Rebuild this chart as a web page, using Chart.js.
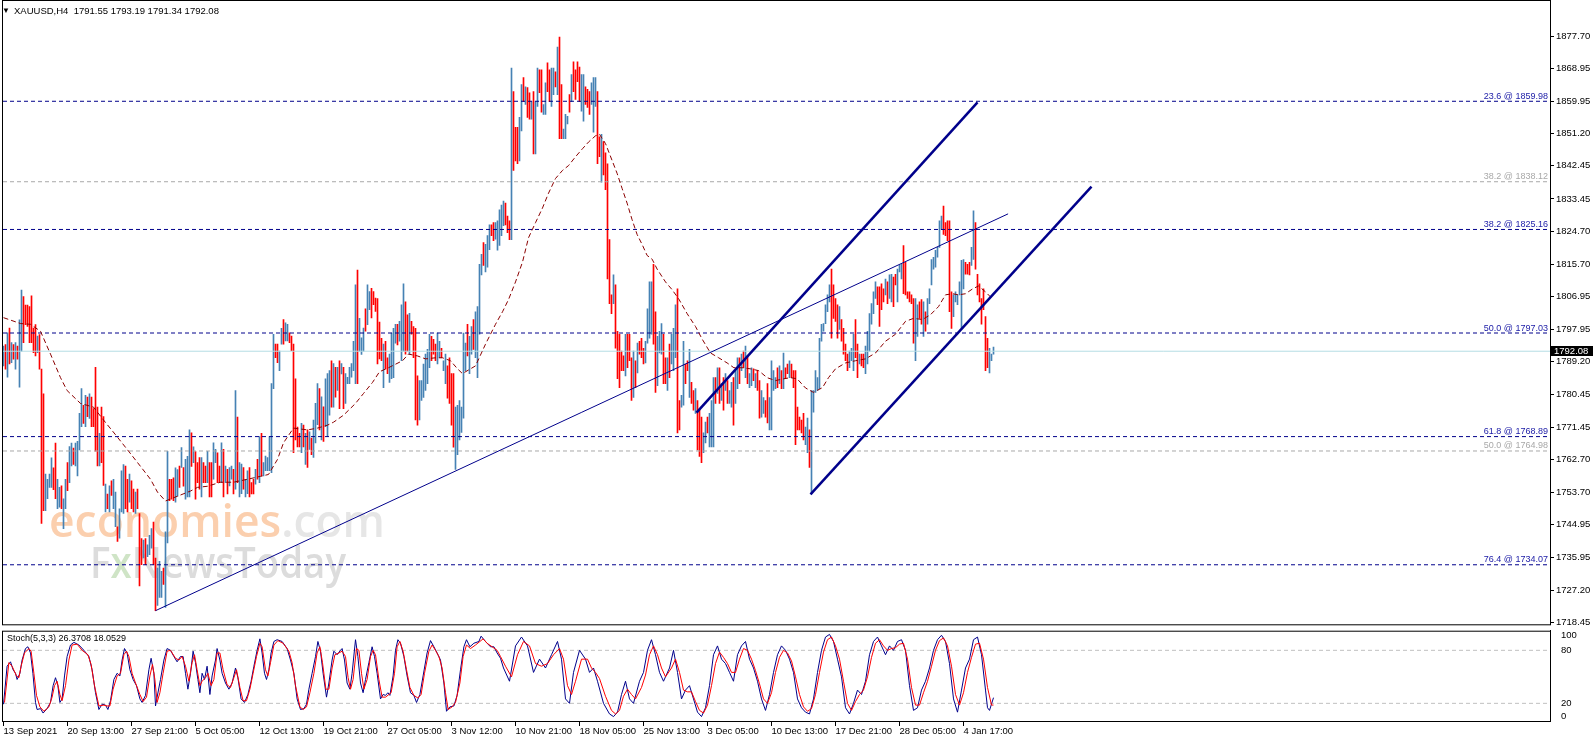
<!DOCTYPE html>
<html><head><meta charset="utf-8">
<script src="https://cdn.jsdelivr.net/npm/chart.js@4/dist/chart.umd.min.js"></script>
<style>
html,body{margin:0;padding:0;background:#fff;width:1596px;height:743px;overflow:hidden}
#c1{position:absolute;left:0;top:0}
#c2{position:absolute;left:0;top:622px}
</style></head><body>
<canvas id="c1" width="1596" height="632"></canvas>
<canvas id="c2" width="1596" height="121"></canvas>
<script>
const symbolTitle = 'XAUUSD,H4';
const lastBarOHLC = [1791.55, 1793.19, 1791.34, 1792.08];
const lastPrice = 1792.08;
const stochTitle = 'Stoch(5,3,3)';
const stochLast = [26.3708, 18.0529];

const barHigh = [
1793.5,1793.9,1797.1,1798.4,1794.4,1793.9,1794.4,1793.5,1800.6,1808.7,
1806.9,1804.6,1804.6,1804.2,1807.1,1798.4,1799.3,1796.2,1796.6,1787.2,
1780.5,1758.7,1757.3,1758.7,1763.1,1760.4,1767.1,1757.3,1755.1,1755.5,
1752.0,1757.3,1761.8,1766.2,1767.1,1765.8,1767.1,1767.6,1775.2,1781.9,
1777.4,1780.1,1779.6,1780.5,1779.6,1776.5,1787.7,1776.9,1769.8,1776.9,
1774.3,1756.0,1753.3,1755.5,1756.9,1757.3,1753.8,1744.4,1749.3,1759.6,
1761.3,1760.9,1757.3,1758.7,1756.9,1754.6,1753.8,1754.6,1748.0,1741.2,
1740.8,1741.2,1739.5,1742.1,1743.9,1745.7,1735.9,1733.2,1735.0,1732.3,
1733.2,1743.0,1764.9,1757.3,1757.3,1757.7,1760.4,1759.9,1760.9,1765.9,
1760.5,1762.7,1763.5,1770.7,1769.9,1766.1,1764.8,1761.8,1763.2,1763.2,
1761.8,1760.9,1764.9,1761.8,1761.8,1767.2,1765.4,1764.5,1760.9,1767.2,
1765.4,1760.9,1760.0,1760.5,1760.9,1760.0,1781.4,1774.2,1761.8,1761.4,
1760.5,1757.3,1759.6,1760.5,1756.4,1757.3,1760.0,1762.7,1768.9,1769.8,
1761.8,1763.6,1763.2,1768.9,1783.3,1796.7,1794.0,1794.0,1792.1,1798.3,
1800.7,1799.8,1799.4,1797.1,1796.2,1794.0,1784.6,1771.5,1769.8,1772.5,
1772.0,1769.8,1770.7,1770.2,1768.5,1773.4,1777.9,1783.3,1781.9,1779.7,
1777.0,1784.6,1786.0,1786.8,1789.5,1788.7,1787.7,1787.7,1789.5,1788.7,
1787.7,1786.0,1785.0,1787.7,1788.7,1794.8,1810.1,1814.1,1801.0,1795.7,
1798.4,1803.6,1810.1,1808.3,1809.2,1808.3,1806.5,1806.4,1800.0,1795.6,
1794.0,1794.8,1790.3,1791.3,1797.0,1798.3,1799.4,1799.4,1800.2,1804.7,
1810.4,1805.5,1802.0,1802.4,1800.2,1798.8,1798.3,1785.4,1784.1,1784.1,
1788.6,1791.3,1792.6,1796.7,1796.1,1795.3,1794.0,1797.0,1794.8,1792.9,
1789.5,1791.3,1788.1,1790.3,1786.0,1786.0,1776.9,1777.4,1778.7,1776.9,
1797.0,1794.3,1799.4,1796.1,1798.8,1800.7,1802.8,1804.2,1815.7,1818.4,
1821.6,1821.1,1823.5,1826.4,1826.4,1827.0,1827.0,1827.5,1830.5,1831.8,
1832.9,1832.3,1828.8,1827.5,1869.0,1862.6,1852.9,1852.9,1855.6,1864.5,
1866.4,1863.9,1863.7,1862.3,1859.9,1862.6,1859.9,1869.0,1868.5,1868.5,
1859.1,1865.0,1870.4,1868.5,1869.0,1869.0,1868.0,1874.7,1877.4,1864.5,
1852.4,1856.4,1855.9,1861.8,1867.2,1870.7,1868.5,1870.7,1869.3,1867.2,
1867.2,1863.9,1863.2,1862.6,1865.0,1866.4,1866.4,1862.6,1850.3,1851.0,
1849.0,1846.0,1843.0,1822.4,1807.4,1812.8,1810.1,1797.5,1796.7,1792.1,
1790.8,1796.7,1796.7,1796.7,1790.3,1792.1,1789.5,1794.3,1794.8,1795.6,
1792.9,1794.8,1803.6,1810.9,1810.9,1815.7,1802.8,1796.1,1797.5,1799.6,
1796.7,1790.3,1790.3,1794.0,1796.7,1798.3,1804.7,1809.0,1778.7,1780.1,
1794.8,1788.6,1789.5,1792.6,1783.6,1781.4,1781.9,1778.7,1776.1,1774.2,
1769.9,1772.8,1774.2,1775.2,1778.7,1784.9,1784.9,1787.6,1787.6,1783.3,
1784.9,1786.0,1784.1,1781.4,1783.6,1784.9,1786.8,1790.3,1790.3,1791.3,
1792.1,1793.5,1790.8,1786.0,1787.6,1787.3,1786.0,1786.8,1784.1,1781.4,
1779.5,1778.7,1783.3,1779.5,1789.5,1786.8,1784.9,1787.6,1788.1,1786.8,
1791.6,1787.6,1788.6,1789.5,1788.6,1786.8,1786.8,1776.9,1774.2,1773.4,
1775.2,1771.5,1773.9,1770.7,1781.4,1781.4,1786.8,1784.9,1795.6,1799.4,
1799.6,1804.7,1807.4,1810.1,1814.4,1810.1,1806.4,1804.7,1804.2,1800.7,
1798.3,1794.0,1791.3,1792.1,1792.9,1796.7,1800.7,1794.0,1791.3,1791.3,
1791.3,1793.5,1797.5,1802.3,1805.0,1808.2,1810.9,1809.6,1809.6,1810.4,
1809.0,1811.7,1810.9,1812.8,1813.0,1812.2,1813.0,1814.4,1815.4,1815.7,
1820.8,1816.2,1808.2,1808.2,1807.4,1806.4,1806.4,1804.7,1805.5,1806.1,
1805.5,1802.8,1806.4,1809.0,1817.0,1817.6,1819.5,1820.3,1827.5,1828.8,
1831.5,1827.0,1827.5,1827.5,1808.2,1807.4,1808.2,1807.4,1810.9,1816.8,
1817.0,1816.2,1815.7,1816.2,1820.3,1830.2,1827.0,1813.0,1810.4,1806.4,
1809.0,1801.5,1795.6,1792.9,1791.3,1793.2];

const barLow = [
1788.1,1787.2,1785.0,1788.6,1789.0,1789.9,1787.2,1789.9,1782.3,1792.1,
1794.4,1799.3,1798.8,1794.4,1794.4,1791.7,1790.8,1791.7,1787.2,1745.3,
1748.8,1748.8,1752.0,1755.1,1755.1,1754.5,1752.0,1749.3,1749.7,1749.3,
1743.9,1749.3,1754.2,1756.4,1760.9,1761.3,1760.9,1758.2,1765.3,1771.6,
1772.5,1771.6,1774.3,1773.8,1771.6,1771.6,1764.9,1760.9,1760.9,1761.8,
1755.6,1748.4,1749.3,1748.4,1752.9,1749.3,1744.4,1740.4,1741.3,1748.4,
1748.0,1749.3,1748.4,1751.1,1749.3,1748.4,1748.0,1749.3,1728.3,1734.1,
1735.9,1734.1,1736.3,1736.8,1738.6,1734.1,1721.6,1723.0,1725.2,1725.2,
1728.7,1722.5,1740.0,1751.5,1751.9,1751.5,1751.1,1752.7,1755.1,1760.5,
1755.4,1751.9,1752.5,1752.5,1760.8,1761.8,1751.9,1756.4,1754.6,1752.5,
1756.4,1756.4,1756.4,1752.5,1752.5,1757.3,1761.8,1756.4,1756.4,1756.4,
1752.5,1756.4,1753.3,1755.5,1757.3,1753.3,1754.6,1756.4,1752.5,1753.4,
1754.6,1752.5,1753.4,1752.5,1753.3,1753.3,1756.0,1757.3,1756.4,1758.2,
1758.2,1759.6,1759.6,1759.6,1759.1,1781.9,1790.3,1789.0,1786.8,1794.0,
1794.0,1794.9,1794.9,1794.4,1792.2,1764.5,1768.0,1766.1,1766.1,1764.5,
1766.1,1761.3,1760.5,1765.4,1764.0,1763.2,1767.2,1772.1,1770.7,1768.0,
1767.6,1771.6,1768.9,1774.7,1776.9,1776.9,1779.6,1781.4,1776.5,1785.9,
1776.5,1777.9,1783.3,1783.3,1785.0,1786.8,1783.3,1783.3,1792.1,1791.2,
1792.1,1797.5,1799.3,1803.4,1801.1,1804.7,1802.9,1788.6,1790.0,1789.5,
1782.2,1787.3,1786.0,1783.6,1784.6,1784.9,1794.3,1793.8,1794.8,1789.5,
1792.1,1791.3,1792.1,1791.3,1796.7,1790.3,1773.4,1772.0,1773.4,1778.7,
1779.5,1781.4,1783.3,1787.6,1789.5,1791.3,1789.5,1788.6,1790.3,1790.3,
1786.8,1783.3,1779.3,1777.9,1772.0,1766.0,1760.0,1764.0,1768.0,1770.0,
1773.9,1786.8,1790.8,1786.0,1791.3,1792.6,1790.3,1784.9,1796.7,1812.8,
1815.4,1813.6,1814.9,1819.7,1823.5,1822.1,1822.5,1819.5,1820.8,1823.5,
1826.2,1826.4,1824.3,1822.4,1822.4,1841.2,1843.8,1843.0,1843.8,1851.9,
1859.9,1859.1,1855.6,1855.1,1855.1,1845.7,1845.7,1858.6,1862.3,1857.0,
1856.4,1856.4,1862.6,1859.9,1858.6,1861.8,1863.9,1861.8,1849.8,1849.8,
1849.8,1849.8,1853.8,1857.0,1859.9,1862.6,1860.5,1865.3,1859.9,1857.3,
1854.6,1859.1,1858.3,1856.4,1859.1,1851.6,1858.6,1843.0,1844.9,1838.0,
1840.0,1836.0,1811.7,1805.0,1802.3,1805.0,1792.9,1784.6,1782.2,1786.8,
1786.8,1785.4,1787.6,1789.5,1778.7,1779.5,1782.2,1786.2,1791.3,1790.3,
1788.6,1788.9,1794.3,1795.6,1796.7,1794.0,1780.9,1782.7,1791.6,1791.3,
1783.3,1783.3,1781.4,1784.9,1788.6,1786.8,1790.3,1769.9,1770.7,1776.9,
1777.4,1783.3,1786.8,1779.5,1777.9,1776.1,1775.2,1765.3,1763.5,1761.8,
1764.5,1767.2,1769.9,1766.1,1766.1,1766.1,1777.9,1780.6,1777.9,1778.7,
1776.1,1781.4,1777.9,1777.9,1776.9,1772.0,1777.9,1781.9,1783.3,1786.8,
1787.6,1784.9,1783.3,1782.2,1782.7,1784.1,1782.2,1781.4,1773.9,1774.2,
1775.2,1774.2,1772.6,1770.7,1770.7,1781.4,1781.9,1782.2,1783.3,1781.9,
1781.9,1784.6,1786.0,1784.9,1784.9,1782.2,1766.7,1770.7,1770.7,1769.9,
1768.0,1766.7,1764.5,1760.5,1753.3,1775.5,1780.9,1781.4,1781.9,1794.8,
1797.5,1799.6,1802.8,1805.5,1795.6,1801.0,1800.2,1795.6,1798.0,1794.8,
1791.3,1789.5,1786.8,1787.6,1789.5,1786.8,1790.3,1784.9,1788.6,1788.1,
1787.6,1786.0,1788.6,1792.1,1799.4,1802.3,1806.4,1804.7,1798.8,1803.4,
1805.5,1807.4,1805.0,1806.4,1805.5,1804.2,1810.1,1805.5,1813.6,1811.7,
1807.7,1807.4,1806.4,1805.5,1805.0,1794.3,1789.5,1796.1,1801.0,1799.4,
1796.1,1797.5,1799.4,1805.0,1810.1,1814.4,1814.9,1817.6,1820.3,1825.1,
1823.8,1823.5,1822.1,1802.8,1798.3,1801.5,1805.5,1804.7,1807.4,1798.3,
1809.0,1813.0,1813.0,1812.8,1815.4,1817.0,1814.4,1807.4,1805.5,1799.4,
1803.4,1786.8,1787.6,1786.2,1789.5,1791.3];

const barUp = [
1,0,1,0,1,0,1,0,1,1, 0,0,0,0,0,0,0,1,0,0, 0,1,1,1,1,0,0,1,1,0, 1,1,0,1,1,0,1,1,1,1,
0,1,0,1,0,0,0,0,1,0, 0,1,0,1,0,1,1,0,1,1, 1,0,0,1,0,0,1,0,0,0, 1,0,1,1,1,0,0,1,1,1,
0,1,1,0,0,0,1,1,0,1, 0,1,1,1,0,1,0,0,0,1, 0,0,1,0,0,1,1,0,0,1, 0,1,0,1,1,0,1,0,1,1,
0,1,1,0,0,0,1,0,1,0, 1,1,1,1,1,1,0,0,1,1, 0,1,1,0,0,0,0,0,0,1, 0,1,0,1,0,1,1,1,0,1,
0,1,1,1,0,1,0,1,0,1, 0,1,1,1,1,1,1,0,1,1, 1,0,1,1,0,0,0,0,0,0, 1,0,0,1,1,1,1,0,1,1,
1,0,0,1,0,0,0,0,1,1, 1,1,1,1,0,0,0,1,1,0, 1,1,0,0,0,0,1,1,1,1, 1,1,0,1,1,0,1,1,1,1,
0,1,1,1,0,0,1,1,1,1, 1,0,0,0,1,0,0,0,1,1, 0,1,0,0,1,0,1,1,0,0, 1,1,0,0,1,1,0,1,0,0,
1,1,1,0,1,0,0,0,0,1, 1,0,0,0,1,1,1,0,0,1, 0,0,0,0,0,1,0,0,0,0, 0,1,0,0,0,1,0,1,0,0,
0,1,1,1,1,0,0,1,1,1, 0,0,1,0,1,1,1,0,0,1, 1,0,0,1,0,0,1,0,0,0, 1,1,0,1,1,1,0,1,0,1,
0,1,0,1,1,0,1,1,0,1, 0,1,0,1,1,0,1,0,0,1, 1,0,0,1,1,1,1,0,1,0, 1,0,0,1,0,0,0,0,0,0,
0,1,1,0,1,1,1,1,1,1, 1,1,1,1,0,0,0,0,1,0, 0,0,0,1,1,1,0,0,1,0, 0,1,1,1,1,1,1,0,0,0,
0,1,0,1,1,0,0,1,1,1, 0,0,0,0,0,0,1,1,0,0, 1,0,1,1,1,1,1,1,1,1, 0,0,0,0,0,1,1,1,1,1,
1,0,0,0,1,1,0,0,0,0, 0,0,0,1,1,1];

const maIdx = [0,8.5,13.5,18.5,23.5,28.5,31.8,38.5,45,50,56,62,68.5,73.5,77,81,87,93.5,97,102,108.5,115,122,128.5,132.5,137,140,142,145,152,157,162,165,170,176,180,184.5,188,192.5,199.5,202.5,207,211,216,219.5,223.5,227,229.5,233.5,236,241,246,249.5,252.5,256,259.5,262.5,266,269.5,272.5,276,279.5,282.5,286,289.5,292.5,296,298,301,306.8,309.3,311.8,314.3,316.8,319.3,321.8,324.3,326.8,331,334.3,337.6,341.8,346,349.3,353.5,357.6,361.8,365.2,369.3,373.5,377.6,381.8,386,390.2,393.5,396.8,401,405,409.5,412.5,416,421,426,431,436,441,446,451,455,459.5,463.5,467.5,471,474.5,477.5,481,484.5,487.5,491,494.5];
const maVal = [1801.2,1799.6,1799.4,1797.5,1791.3,1784.9,1781.4,1777.9,1776.9,1773.4,1769.4,1765.3,1760.8,1757.3,1753.8,1751.4,1752.7,1754.1,1755.1,1755.4,1756.5,1756.5,1757.3,1758.1,1758.6,1762.7,1767.2,1768.8,1771.2,1770.7,1771.2,1772.0,1772.8,1774.7,1777.9,1780.6,1783.6,1786.5,1787.6,1789.5,1791.3,1790.8,1790.0,1790.3,1790.3,1789.5,1787.3,1786.0,1787.3,1788.1,1794.0,1799.4,1802.8,1806.1,1810.9,1816.3,1822.9,1827.0,1831.0,1835.0,1839.0,1841.2,1842.5,1844.9,1847.1,1848.9,1850.6,1851.0,1848.5,1840.4,1836.3,1832.3,1827.8,1823.8,1821.1,1818.1,1817.1,1814.4,1810.9,1808.8,1806.3,1802.3,1798.8,1795.4,1791.6,1790.3,1788.9,1787.6,1787.6,1787.3,1786.8,1784.9,1784.1,1784.6,1784.9,1784.6,1782.1,1780.9,1782.2,1784.9,1787.3,1788.9,1789.5,1790.0,1791.6,1794.8,1796.7,1800.2,1801.0,1800.7,1802.0,1804.2,1807.4,1807.7,1807.4,1807.7,1809.0,1809.8,1808.2,1806.3];

const stochKIdx = [0,1.8,3.5,4.8,6,6.8,8.2,9.3,11,12.2,13.5,14.7,16,16.8,18.5,19.8,21.8,23.5,24.8,26,27.2,28.2,29.3,30.5,31.8,33.5,35.2,37.7,40.2,42.7,44.3,46,47.7,49.3,51,52.2,53.5,55.2,56.8,58.2,59.3,60.5,61.8,63.2,64.8,66.5,68.2,69.3,71,72.7,73.8,75.2,76,76.8,78.5,80.2,81.8,83.5,85.2,86.8,88.5,89.8,91,92.2,93.5,94.8,96,97.2,98.2,99.3,100.5,101.8,103.2,104.3,106,106.8,108.2,109.3,111,112.7,114.3,116,117.2,118.8,120.5,122.2,123.8,125.2,126.8,128.2,129.3,130.5,131.5,132.7,133.8,135.2,136.8,139.3,141.8,143.5,145.2,146.8,148.5,150.2,151.5,152.7,154.3,156,157.2,158.5,159.8,161.5,162.7,164.3,165.2,166.8,168.5,169.3,170.5,171.8,173.2,174.3,176,177.2,178.5,179.8,181,182.7,184.3,185.5,186.8,188.5,189.8,191,192.2,193.2,194.8,196,197.2,198.5,200.2,201.8,203.5,205.2,206.5,208.2,209.8,211.8,213.5,215.2,216.8,218.5,220.2,221.5,223.2,225.2,226.8,228.5,230.2,231.5,233.2,235.2,237.7,238.8,241,243.5,245.2,246.8,248.5,
250,253,256,259,262,265,268,271,274,277,279,281,283,285,288,291,293,295,297,300,303,305,307,309,311,313,315,318,320,322,324,326,328,330,333,335,337,339,341,343,345,347,349,351,353,355,357,359,361,363,365,367,369,371,373,375,377,379,381,383,385,387,389,391,393,395,397,399,401,403,405,407,409,411,413,415,417,419,421,423,425,427,429,431,433,435,437,439,441,443,445,447,449,451,453,455,457,459,461,463,465,467,469,471,473,475,477,479,481,483,485,487,489,491,492,493,495];
const stochKVal = [19,62,67,58,54,47,54,69,82,84,77,54,21,13,14,9,14,21,40,49,40,21,25,51,73,86,89,86,80,73,58,32,13,19,18,13,23,47,54,51,69,82,77,58,47,40,25,21,29,58,71,54,17,27,47,69,82,80,73,67,73,73,54,36,54,79,66,47,32,54,47,62,30,51,69,82,69,54,43,36,43,60,49,25,21,30,45,62,80,93,77,54,47,58,77,90,92,90,82,69,54,25,13,14,19,36,54,73,90,79,54,27,43,69,79,75,80,82,69,43,36,54,92,73,43,32,47,66,84,73,54,25,30,29,32,29,51,80,92,88,73,51,32,29,21,30,51,77,91,84,77,69,43,11,16,17,29,58,84,92,84,88,90,96,90,84,84,77,71,
60,45,85,95,85,55,70,60,75,90,70,25,20,55,80,70,55,60,45,20,8,5,10,30,45,25,20,45,55,80,92,75,55,45,60,80,55,25,35,40,25,10,5,15,40,75,85,70,65,55,45,75,85,90,70,60,45,25,12,30,55,75,85,80,70,55,25,15,10,8,25,55,80,95,98,90,70,50,15,8,20,35,30,45,75,90,95,85,75,85,80,90,92,80,40,12,15,35,45,60,80,92,97,90,65,25,10,35,60,70,92,95,75,35,15,12,26.4];

const stochDIdx = [0.5,2.7,4.3,6.5,7.7,8.8,10.5,12.7,13.8,15.2,16.5,18.2,20.2,22.7,24.3,25.5,26.8,28.2,29.3,31,32.7,34.3,36.8,39.3,42.2,43.8,45.5,47.7,50.2,51.8,53.2,54.8,56.8,58.5,60.2,61.5,62.7,64.3,66,68.2,69.8,71.5,73.2,74.5,75.7,76.8,78.2,79.8,81.8,83.5,86,87.7,89.3,91,92.7,94.3,95.5,96.8,98.2,99.3,101,102.2,103.8,105.2,106.8,108.2,109.8,111.8,113.5,115.2,116.5,118.2,119.8,121.5,123.2,124.8,126.5,128.2,129.3,131,132.2,133.5,135.2,137.2,139.8,142.7,144.3,146,148.2,149.8,151.5,153.2,155.2,156.8,158.2,159.5,161.2,162.7,164.3,165.7,167.7,169.3,171,172.3,173.5,174.8,176.5,177.7,179,180.2,181.8,183.5,184.8,186,187.7,189.3,191,192.7,193.8,195.5,196.8,198.2,199.8,201.5,203.2,205.2,207.2,208.8,210.5,212.7,214.3,216,217.7,219.3,221,222.3,224.3,226,228.2,229.8,231.5,233.5,236,238.2,239.8,241.8,244.3,246.8,248.5,
251,254,257,260,263,266,269,272,275,278,280,282,284,286,289,292,294,296,298,301,304,306,308,310,312,314,316,319,321,323,325,327,329,331,334,336,338,340,342,344,346,348,350,352,354,356,358,360,362,364,366,368,370,372,374,376,378,380,382,384,386,388,390,392,394,396,398,400,402,404,406,408,410,412,414,416,418,420,422,424,426,428,430,432,434,436,438,440,442,444,446,448,450,452,454,456,458,460,462,464,466,468,470,472,474,476,478,480,482,484,486,488,490,492,494,495];
const stochDVal = [21,66,62,51,49,62,77,82,79,54,29,16,11,16,27,40,45,30,23,40,69,86,87,80,75,64,40,17,18,17,17,36,51,54,75,79,73,54,43,30,22,27,51,64,47,21,32,54,79,80,71,69,73,62,45,66,75,58,40,45,49,54,40,47,77,77,58,41,38,49,58,38,23,23,36,54,73,88,84,58,51,66,86,91,88,79,66,40,16,13,16,32,54,77,84,66,36,36,60,75,77,79,73,49,36,47,82,80,54,36,47,73,80,75,47,27,27,30,32,54,84,90,79,58,38,29,26,30,54,79,86,80,73,60,32,13,16,21,43,73,86,82,86,90,93,88,84,80,73,
62,50,75,90,85,65,62,65,75,82,70,40,30,45,70,70,60,55,48,28,12,8,12,28,36,30,25,38,52,75,85,75,60,50,60,70,55,35,33,33,22,12,9,18,40,65,78,72,65,55,55,70,82,80,70,57,42,25,20,32,55,72,80,77,68,50,30,16,11,14,30,55,78,92,95,85,70,45,20,12,22,30,35,50,72,88,92,85,80,82,83,87,88,70,38,18,18,32,45,62,80,91,94,85,62,30,18,32,55,72,87,88,70,38,18,18.05];

const stochLevels = [20, 80];
const fibLevels = [1859.98, 1825.16, 1797.03, 1768.89, 1734.07];
const fibNames  = ['23.6', '38.2', '50.0', '61.8', '76.4'];
const fibGrayLevels = [1838.12, 1764.98];
const fibGrayNames  = ['38.2', '50.0'];
const priceTicks = [1877.70,1868.95,1859.95,1851.20,1842.45,1833.45,1824.70,1815.70,1806.95,1797.95,1789.20,1780.45,1771.45,1762.70,1753.70,1744.95,1735.95,1727.20,1718.45];
const stochTickText = ['0', '20', '80', '100'];
// trendlines: [startIdx, startPrice, endIdx, endPrice]
const trendThin  = [[76, 1721.6, 502.3, 1829.4]];
const trendThick = [[346.5, 1775.4, 487, 1859.7], [403.5, 1753.2, 544, 1836.8]];
const xTickIdx = [0,32,64,96,128,160,192,224,256,288,320,352,384,416,448,480];
const xTickLabels = ['13 Sep 2021','20 Sep 13:00','27 Sep 21:00','5 Oct 05:00','12 Oct 13:00','19 Oct 21:00','27 Oct 05:00','3 Nov 12:00','10 Nov 21:00','18 Nov 05:00','25 Nov 13:00','3 Dec 05:00','10 Dec 13:00','17 Dec 21:00','28 Dec 05:00','4 Jan 17:00'];

// ---- view settings ----
const X_MIN = -0.25, X_MAX = 773.25;
const STOCH_LABEL_POS = [5.5, 20, 80, 96.5]; // MT4 keeps the edge labels inside the pane
const FONT = '"Liberation Sans", Arial, sans-serif';
Chart.defaults.font.family = FONT;
Chart.defaults.font.size = 9.5;
Chart.defaults.color = '#000';

const NAVY = '#00008B';
const pts = (xs, ys) => xs.map((x, i) => ({x, y: ys[i]}));
const hline = (v) => [{x: X_MIN, y: v}, {x: X_MAX, y: v}];

const datasets1 = [];
datasets1.push({
  type: 'bar', order: 10,
  data: barHigh.map((h, i) => ({x: i, y: [barLow[i], h]})),
  backgroundColor: barUp.map(u => u ? '#4682B4' : '#FF0000'),
  barThickness: 1, borderWidth: 0, grouped: false
});
datasets1.push({type:'line', order: 8, data: hline(lastPrice), borderColor:'#b5dde4', borderWidth:1, pointRadius:0});
fibGrayLevels.forEach(v => datasets1.push({type:'line', order: 7, data: hline(v), borderColor:'#a8a8a8', borderWidth:1, borderDash:[4,3], pointRadius:0}));
fibLevels.forEach(v => datasets1.push({type:'line', order: 6, data: hline(v), borderColor:NAVY, borderWidth:1, borderDash:[4,3], pointRadius:0}));
datasets1.push({type:'line', order: 4, data: pts(maIdx, maVal), borderColor:'#8B0000', borderWidth:1, borderDash:[5,3], pointRadius:0, tension:0});
trendThin.forEach(t => datasets1.push({type:'line', order: 2, data:[{x:t[0],y:t[1]},{x:t[2],y:t[3]}], borderColor:NAVY, borderWidth:1, pointRadius:0}));
trendThick.forEach(t => datasets1.push({type:'line', order: 1, data:[{x:t[0],y:t[1]},{x:t[2],y:t[3]}], borderColor:NAVY, borderWidth:2.5, pointRadius:0}));

const deco1 = {
  id: 'deco1',
  beforeDatasetsDraw(chart) {
    const ctx = chart.ctx; ctx.save();
    ctx.textBaseline = 'alphabetic'; ctx.textAlign = 'left';
    ctx.font = '600 46px "Open Sans"';
    let x = 49; const y = 537;
    const w1 = ctx.measureText('economies').width, w2 = ctx.measureText('.com').width;
    ctx.translate(x, y); ctx.scale(336 / (w1 + w2), 1);
    ctx.fillStyle = '#fbcfae'; ctx.fillText('economies', 0, 0);
    ctx.fillStyle = '#e6e6e6'; ctx.fillText('.com', w1, 0);
    ctx.restore(); ctx.save();
    ctx.textBaseline = 'alphabetic'; ctx.textAlign = 'left';
    ctx.font = '600 44px "Open Sans"';
    const parts = [['F','#dcdcdc'],['x','#cfe4c6'],['NewsToday','#dcdcdc']];
    const total = parts.reduce((s, p) => s + ctx.measureText(p[0]).width, 0);
    ctx.translate(90, 578); ctx.scale(256 / total, 1);
    let cx = 0;
    for (const [t, c] of parts) { ctx.fillStyle = c; ctx.fillText(t, cx, 0); cx += ctx.measureText(t).width; }
    ctx.restore();
  },
  afterDatasetsDraw(chart) {
    const ctx = chart.ctx, ys = chart.scales.y, ca = chart.chartArea;
    ctx.save();
    ctx.font = '9px ' + FONT; ctx.textAlign = 'right'; ctx.textBaseline = 'alphabetic';
    fibLevels.forEach((v, k) => { ctx.fillStyle = '#1a1aa6'; ctx.fillText(fibNames[k] + ' @ ' + v.toFixed(2), ca.right - 2, ys.getPixelForValue(v) - 2.5); });
    fibGrayLevels.forEach((v, k) => { ctx.fillStyle = '#a8a8a8'; ctx.fillText(fibGrayNames[k] + ' @ ' + v.toFixed(2), ca.right - 2, ys.getPixelForValue(v) - 2.5); });
    ctx.restore();
  },
  afterDraw(chart) {
    const ctx = chart.ctx, ys = chart.scales.y, ca = chart.chartArea;
    ctx.save();
    ctx.strokeStyle = '#000'; ctx.lineWidth = 1;
    ctx.strokeRect(ca.left - 0.5, 0.5, ca.right - ca.left + 1, ca.bottom);
    const py = Math.round(ys.getPixelForValue(lastPrice));
    ctx.fillStyle = '#000'; ctx.fillRect(ca.right + 1, py - 5, 42, 10);
    ctx.fillStyle = '#fff'; ctx.font = '9.5px ' + FONT; ctx.textBaseline = 'middle'; ctx.textAlign = 'left';
    ctx.fillText(lastPrice.toFixed(2), ca.right + 4, py);
    ctx.fillStyle = '#000';
    ctx.font = '8px ' + FONT; ctx.fillText('\u25BC', 2, 11);
    ctx.font = '9.5px ' + FONT;
    ctx.fillText(symbolTitle + '  ' + lastBarOHLC.map(v => v.toFixed(2)).join(' '), 14, 11);
    ctx.restore();
  }
};

new Chart(document.getElementById('c1'), {
  data: { datasets: datasets1 },
  options: {
    responsive: false, animation: false, devicePixelRatio: 1,
    layout: { padding: { left: 3, top: 2, right: 0, bottom: 5 } },
    plugins: { legend: {display:false}, tooltip: {enabled:false} },
    scales: {
      x: { type: 'linear', min: X_MIN, max: X_MAX, offset: false, grid: {offset: false}, display: false },
      y: {
        type: 'linear', position: 'right', min: 1717.9, max: 1885.4,
        afterBuildTicks: (ax) => { ax.ticks = priceTicks.map(v => ({value: v})); },
        afterFit: (ax) => { ax.width = 46; },
        ticks: { autoSkip: false, padding: 2, color: '#000', font: {size: 9.5}, callback: v => Number(v).toFixed(2) },
        grid: { drawOnChartArea: false, tickLength: 4, color: '#000' },
        border: { display: true, color: '#000' }
      }
    }
  },
  plugins: [deco1]
});

const datasets2 = [];
stochLevels.forEach(v => datasets2.push({type:'line', order: 5, data: hline(v), borderColor:'#c0c0c0', borderWidth:1, borderDash:[4,3], pointRadius:0}));
datasets2.push({type:'line', order: 2, data: pts(stochKIdx, stochKVal), borderColor:'#00008B', borderWidth:1, pointRadius:0, tension:0});
datasets2.push({type:'line', order: 1, data: pts(stochDIdx, stochDVal), borderColor:'#FF0000', borderWidth:1, pointRadius:0, tension:0});

const deco2 = {
  id: 'deco2',
  afterDraw(chart) {
    const ctx = chart.ctx, ca = chart.chartArea;
    ctx.save();
    ctx.strokeStyle = '#000'; ctx.lineWidth = 1;
    ctx.strokeRect(ca.left - 0.5, ca.top + 0.5, ca.right - ca.left + 1, ca.bottom - ca.top);
    ctx.fillStyle = '#000'; ctx.font = '9px ' + FONT; ctx.textBaseline = 'middle'; ctx.textAlign = 'left';
    ctx.fillText(stochTitle + ' ' + stochLast.map(v => v.toFixed(4)).join(' '), 7, 17);
    ctx.restore();
  }
};

new Chart(document.getElementById('c2'), {
  data: { datasets: datasets2 },
  options: {
    responsive: false, animation: false, devicePixelRatio: 1,
    layout: { padding: { left: 3, top: 7, right: 0, bottom: 0 } },
    plugins: { legend: {display:false}, tooltip: {enabled:false} },
    scales: {
      x: {
        type: 'linear', position: 'bottom', min: X_MIN, max: X_MAX, offset: false,
        afterBuildTicks: (ax) => { ax.ticks = xTickIdx.map(v => ({value: v})); },
        afterFit: (ax) => { ax.height = 22; },
        ticks: { autoSkip: false, maxRotation: 0, minRotation: 0, align: 'start', padding: 0, color: '#000', font: {size: 9.5},
                 callback: (v, i) => xTickLabels[i] },
        grid: { drawOnChartArea: false, tickLength: 5, color: '#000', offset: false },
        border: { display: true, color: '#000' }
      },
      y: {
        type: 'linear', position: 'right', min: 0, max: 102.2,
        afterBuildTicks: (ax) => { ax.ticks = STOCH_LABEL_POS.map(v => ({value: v})); },
        afterFit: (ax) => { ax.width = 46; },
        ticks: { autoSkip: false, padding: 3, color: '#000', font: {size: 9.5}, callback: (v, i) => stochTickText[i] },
        grid: { display: false },
        border: { display: true, color: '#000' }
      }
    }
  },
  plugins: [deco2]
});
</script>
</body></html>
